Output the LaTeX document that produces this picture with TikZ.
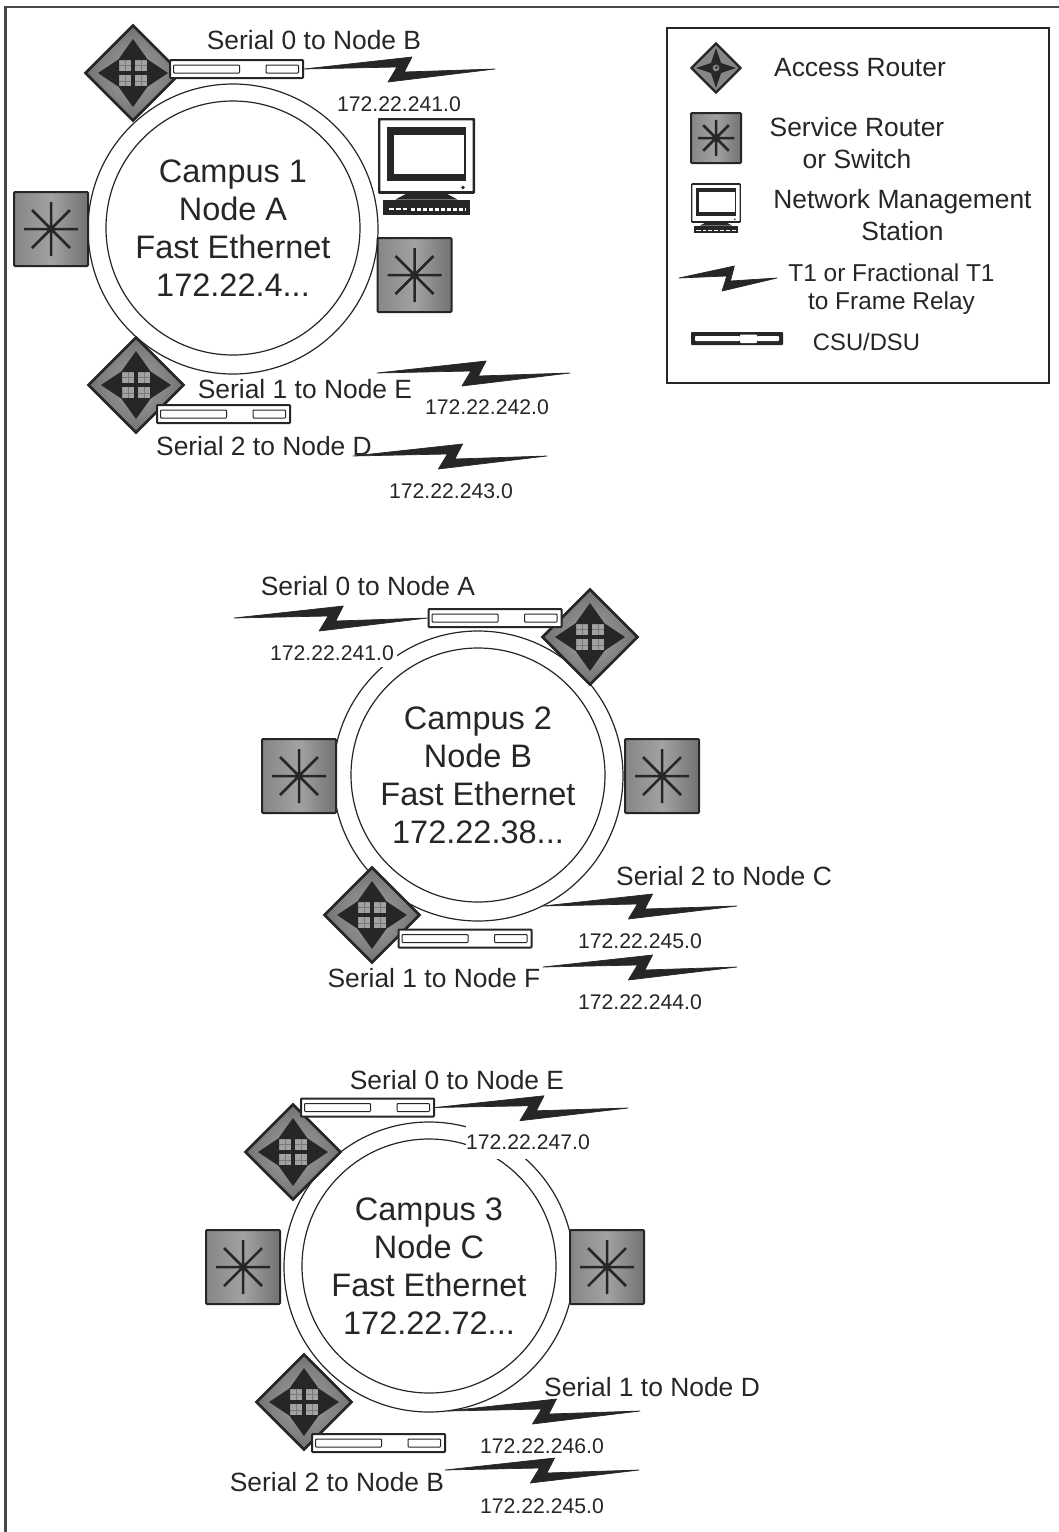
\documentclass[tikz,border=0pt]{standalone}
\usepackage{fontspec}
\setmainfont{Liberation Sans}
\usetikzlibrary{shapes.geometric,calc}
\definecolor{ink}{HTML}{262626}
\definecolor{gmid}{HTML}{868686}
\definecolor{glight}{HTML}{A2A2A2}
\definecolor{gdark}{HTML}{727272}
\definecolor{gline}{HTML}{7A7A7A}
\newcommand{\sz}[2]{\fontsize{#1}{#2}\selectfont}
\tikzset{
  x=1pt,y=-1pt,
  ring/.style={circle,draw=ink,line width=1.2pt,fill=white,inner sep=0pt,minimum size=290},
  innerring/.style={circle,draw=ink,line width=1.2pt,fill=white,inner sep=0pt,minimum size=254,
     align=center,text=ink,font=\sz{32.5}{38}},
  serial/.style={text=ink,font=\sz{26.4}{30},inner sep=0pt},
  ip/.style={text=ink,font=\sz{21.2}{24},inner sep=0pt},
  legendtext/.style={text=ink,align=center,inner sep=0pt,font=\sz{26.4}{32}},
  legendsmall/.style={text=ink,align=center,inner sep=0pt,font=\sz{24.4}{28}},
  coverbox/.style={ip,fill=white},
  router/.style={diamond,aspect=1,draw=ink,line width=2.6pt,inner sep=0pt,minimum size=96,
     shade,inner color=glight,outer color=gdark,
     path picture={
       \begin{scope}[shift={(path picture bounding box.center)}]
         \fill[glight] (-15,-15) rectangle (15,15);
         \draw[gline,line width=0.8pt] (-15,-8) -- (15,-8) (-15,8) -- (15,8) (-8,-15) -- (-8,15) (8,-15) -- (8,15);
         \fill[ink] (-2,-17) rectangle (2,17);
         \fill[ink] (-17,-2) rectangle (17,2);
         \fill[ink] (0,-34) -- (15,-13) -- (-15,-13) -- cycle;
         \fill[ink] (0,34) -- (15,13) -- (-15,13) -- cycle;
         \fill[ink] (-35,0) -- (-14,-14) -- (-14,14) -- cycle;
         \fill[ink] (35,0) -- (14,-14) -- (14,14) -- cycle;
       \end{scope}}},
  minirouter/.style={diamond,aspect=1,draw=ink,line width=2.4pt,inner sep=0pt,minimum size=50,
     fill=gmid,
     path picture={
       \begin{scope}[shift={(path picture bounding box.center)}]
         \fill[ink] (0,-20) -- (5,-5) -- (20,0) -- (5,5) -- (0,20) -- (-5,5) -- (-20,0) -- (-5,-5) -- cycle;
         \fill[gmid] (0,0) circle (3.4);
         \fill[ink] (0.5,-0.5) circle (1.4);
       \end{scope}}},
  switchbox/.style={rectangle,draw=ink,line width=2pt,rounded corners=1pt,inner sep=0pt,
     minimum size=2*#1,shade,left color=gmid,right color=gdark,middle color=glight,
     path picture={
       \begin{scope}[shift={(path picture bounding box.center)},x=#1/37*1pt,y=-#1/37*1pt]
         \draw[ink,line width=2.5pt] (-27,0) -- (27,0) (0,-27) -- (0,27) (-19,-19) -- (19,19) (-19,19) -- (19,-19);
         \fill[ink] (0,0) circle (3);
       \end{scope}}},
  csu/.style={rectangle,draw=ink,line width=2pt,fill=white,rounded corners=0.8pt,inner sep=0pt,
     minimum width=133,minimum height=18,
     path picture={
       \begin{scope}[shift={(path picture bounding box.center)}]
         \draw[ink,line width=1pt,fill=white] (-63,-4) rectangle (3,4);
         \draw[ink,line width=1pt,fill=white] (29.5,-4) rectangle (62,4);
       \end{scope}}},
  minicsu/.style={rectangle,fill=ink,inner sep=0pt,rounded corners=0.8pt,minimum width=92,minimum height=13,
     path picture={
       \begin{scope}[shift={(path picture bounding box.center)}]
         \fill[white] (-42,-2.5) rectangle (3,2.5);
         \fill[white] (3,-4) rectangle (20,4.5);
         \fill[white] (20,-2.5) rectangle (42,2.5);
       \end{scope}}},
  pcbox/.style={rectangle,inner sep=0pt,minimum size=97*#1,
     path picture={
       \begin{scope}[shift={(path picture bounding box.center)},x=#1*1pt,y=-#1*1pt]
         \draw[ink,fill=white,line width=2.4pt*#1+0.5pt,rounded corners=1pt] (-47.5,-47.5) rectangle (47.5,26);
         \fill[ink] (-39.5,-39.5) rectangle (39.5,14);
         \fill[white] (-33,-32) rectangle (37.5,7);
         \fill[ink] (36.5,21) circle (1.8);
         \fill[ink] (-18,26) -- (18,26) -- (31,33) -- (-31,33) -- cycle;
         \fill[ink] (-43.5,33) rectangle (43.5,48.5);
         \draw[white,line width=3pt*#1,dash pattern=on 4pt off 2pt] (-16,43) -- (39,43);
         \draw[white,line width=2pt*#1,dash pattern=on 5pt off 2pt] (-38,42) -- (-20,42);
       \end{scope}}},
}
\newcommand{\bolt}[2]{\filldraw[ink,line width=0.7pt,line join=round] (#1) -- ($(#1)!.565!(#2)+(0,-12)$) -- ($(#1)!.525!(#2)+(0,3)$) -- (#2) -- ($(#1)!.44!(#2)+(0,13)$) -- ($(#1)!.487!(#2)+(0,-2)$) -- cycle;}
\begin{document}
\begin{tikzpicture}
\useasboundingbox (0,0) rectangle (1059,1532);
\fill[white] (0,0) rectangle (1059,1532);
% page frame
\coordinate (fa) at (5.5,1532);
\coordinate (fb) at (5.5,7);
\coordinate (fc) at (1059,7);
\draw[ink!85,line width=2.6pt] (fa) -- (fb) -- (fc);
% legend
\node[rectangle,draw=ink,line width=2pt,minimum width=382,minimum height=355,inner sep=0pt] (legend) at (858,205.5) {};
\node[minirouter] (lgrouter) at (716,68) {};
\node[legendtext] (lgaccess) at (860,68) {Access Router};
\node[switchbox=25] (lgswitch) at (716,138) {};
\node[legendtext] (lgservice) at (857,143) {Service Router\\or Switch};
\node[pcbox=0.515] (lgpc) at (716,208.5) {};
\node[legendtext] (lgnms) at (902.5,215) {Network Management\\Station};
\coordinate (lgba) at (679,278);
\coordinate (lgbb) at (777,278);
\bolt{lgba}{lgbb}
\node[legendsmall] (lgt1) at (891.5,289) {T1 or Fractional T1\\to Frame Relay};
\node[minicsu] (lgcsu) at (737,338.5) {};
\node[text=ink,inner sep=0pt,font=\sz{23.8}{28}] (lgcsut) at (866.5,342) {CSU/DSU};

% Campus 1
\node[ring] (ringA) at (233,229) {};
\node[innerring] (campA) at (233,228) {Campus 1\\Node A\\Fast Ethernet\\172.22.4...};
\node[switchbox=37] (swAl) at (51,229) {};
\node[switchbox=37] (swAr) at (414.5,275) {};
\node[router] (rtAt) at (133,73) {};
\node[router] (rtAb) at (136,385) {};
\node[csu] (csuA0) at (236.5,69) {};
\node[csu] (csuA1) at (223.5,414) {};
\node[pcbox=1] (pcA) at (426.5,166.5) {};
\node[serial] (sA0) at (314,40) {Serial 0 to Node B};
\node[ip] (ipA0) at (399,104) {172.22.241.0};
\coordinate (bA0) at (495,69);
\bolt{csuA0.east}{bA0}
\node[serial] (sA1) at (305,389) {Serial 1 to Node E};
\node[ip] (ipA1) at (487,407) {172.22.242.0};
\coordinate (bA1a) at (377,373);
\coordinate (bA1b) at (570,373);
\bolt{bA1a}{bA1b}
\node[serial] (sA2) at (264,446) {Serial 2 to Node D};
\node[ip] (ipA2) at (451,491) {172.22.243.0};
\coordinate (bA2a) at (353,456);
\coordinate (bA2b) at (547,456);
\bolt{bA2a}{bA2b}

% Campus 2
\node[ring] (ringB) at (478,776) {};
\node[innerring] (campB) at (478,775) {Campus 2\\Node B\\Fast Ethernet\\172.22.38...};
\node[coverbox,minimum height=28,minimum width=130] (ipB0) at (332,653) {172.22.241.0};
\node[switchbox=37] (swBl) at (299,776) {};
\node[switchbox=37] (swBr) at (662,776) {};
\node[router] (rtBt) at (590,637) {};
\node[router] (rtBb) at (372,915) {};
\node[csu] (csuB0) at (495,618) {};
\node[csu] (csuB1) at (465,938.5) {};
\node[serial] (sB0) at (368,586) {Serial 0 to Node A};
\coordinate (bB0) at (234,618);
\bolt{bB0}{csuB0.west}
\node[serial] (sB2) at (724,876) {Serial 2 to Node C};
\node[ip] (ipB2) at (640,941) {172.22.245.0};
\coordinate (bB2a) at (543,906);
\coordinate (bB2b) at (737,906);
\bolt{bB2a}{bB2b}
\node[serial] (sB1) at (434,978) {Serial 1 to Node F};
\node[ip] (ipB1) at (640,1002) {172.22.244.0};
\coordinate (bB1a) at (543,967);
\coordinate (bB1b) at (737,967);
\bolt{bB1a}{bB1b}

% Campus 3
\node[ring] (ringC) at (429,1267) {};
\node[innerring] (campC) at (429,1266) {Campus 3\\Node C\\Fast Ethernet\\172.22.72...};
\node[coverbox,minimum height=33,minimum width=124] (ipC0) at (528,1142) {172.22.247.0};
\node[switchbox=37] (swCl) at (243,1267) {};
\node[switchbox=37] (swCr) at (607,1267) {};
\node[router] (rtCt) at (293,1152) {};
\node[router] (rtCb) at (304,1402) {};
\node[csu] (csuC0) at (367.5,1107.5) {};
\node[csu] (csuC1) at (378.5,1443) {};
\node[serial] (sC0) at (457,1080) {Serial 0 to Node E};
\coordinate (bC0) at (628,1108);
\bolt{csuC0.east}{bC0}
\node[serial] (sC1) at (652,1387) {Serial 1 to Node D};
\node[ip] (ipC1) at (542,1446) {172.22.246.0};
\coordinate (bC1a) at (448,1411);
\coordinate (bC1b) at (640,1411);
\bolt{bC1a}{bC1b}
\node[serial] (sC2) at (337,1482) {Serial 2 to Node B};
\node[ip] (ipC2) at (542,1506) {172.22.245.0};
\coordinate (bC2a) at (445,1470);
\coordinate (bC2b) at (639,1470);
\bolt{bC2a}{bC2b}
\end{tikzpicture}
\end{document}
